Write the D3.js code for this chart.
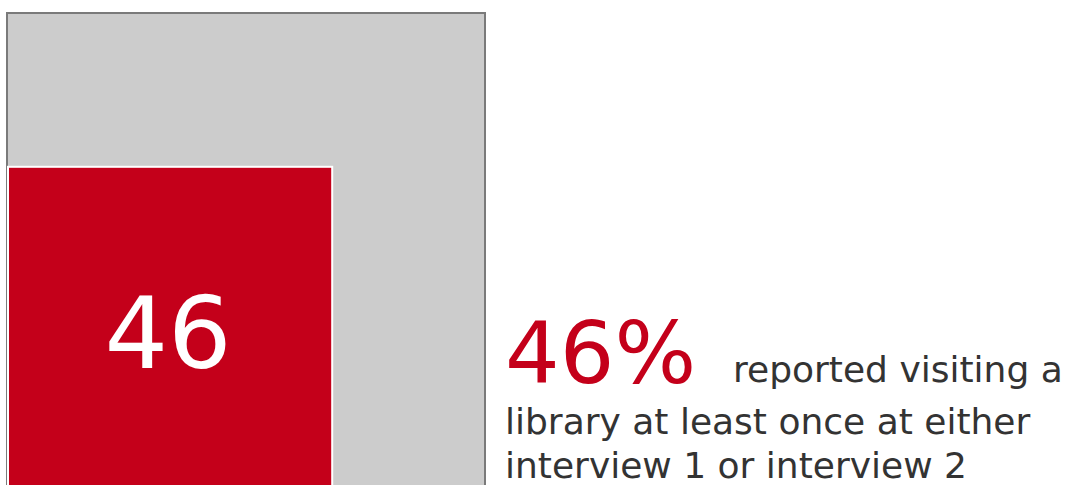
<!DOCTYPE html>
<html><head><meta charset="utf-8">
<script src="https://cdn.jsdelivr.net/npm/d3@7"></script>
<style>body{margin:0;background:#fff;}svg{display:block;font-family:Verdana,"DejaVu Sans",sans-serif;}</style>
</head><body>
<script>
const categories = ["Total", "Visited a library"];
const values = [100, 46];
const headline = "46%";
const captionLines = ["reported visiting a", "library at least once at either", "interview 1 or interview 2"];

const W = 1075, H = 485;
const svg = d3.select("body").append("svg").attr("width", W).attr("height", H);

const x0 = 7, bottom = 491, full = 478;
const side = d3.scaleSqrt().domain([0, 100]).range([0, full]);

const colors = ["#cccccc", "#c4001a"];
const strokes = ["#7a7a7a", "#ffffff"];

svg.selectAll("rect.sq").data(values).join("rect")
  .attr("class", "sq")
  .attr("x", (d, i) => x0 + (i ? 1 : 0))
  .attr("y", d => bottom - side(d))
  .attr("width", d => side(d))
  .attr("height", d => side(d) + 10)
  .attr("fill", (d, i) => colors[i])
  .attr("stroke", (d, i) => strokes[i])
  .attr("stroke-width", 2);

svg.append("text")
  .attr("x", x0 + 1 + side(values[1]) / 2 - 2)
  .attr("y", 368)
  .attr("text-anchor", "middle")
  .attr("fill", "#fff")
  .attr("font-size", 100)
  .text(values[1]);

svg.append("text")
  .attr("x", 505).attr("y", 383)
  .attr("fill", "#c4001a")
  .attr("font-size", 86)
  .text(headline);

svg.append("text")
  .attr("x", 733).attr("y", 382)
  .attr("fill", "#333333")
  .attr("font-size", 36)
  .text(captionLines[0]);

captionLines.slice(1).forEach((t, i) => {
  svg.append("text")
    .attr("x", 505).attr("y", 434 + i * 44)
    .attr("fill", "#333333")
    .attr("font-size", 36)
    .text(t);
});
</script>
</body></html>
